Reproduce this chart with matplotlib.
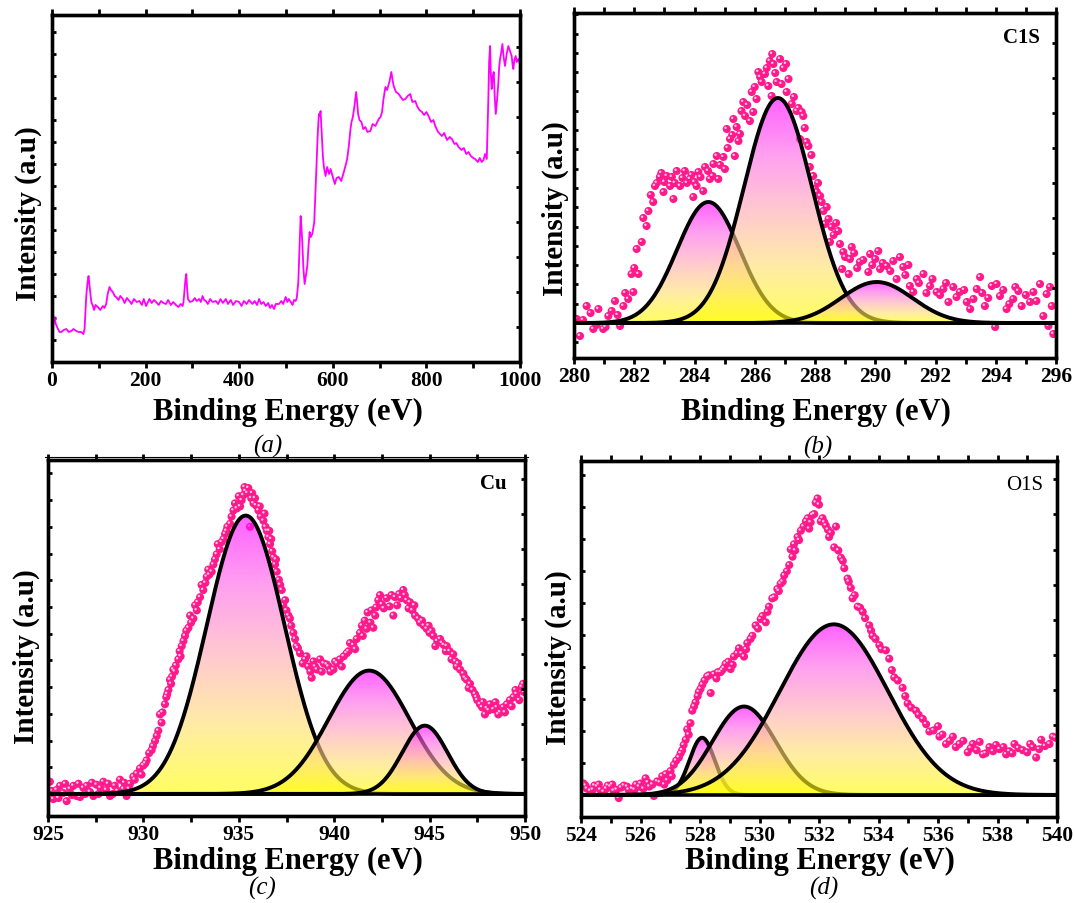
import numpy as np
import matplotlib
matplotlib.use('Agg')
import matplotlib.pyplot as plt
from matplotlib.colors import LinearSegmentedColormap
from matplotlib.patches import Polygon
from matplotlib.ticker import MultipleLocator
from matplotlib.transforms import offset_copy

plt.rcParams['font.family'] = 'Liberation Serif'
plt.rcParams['font.weight'] = 'bold'

# ---------------- survey spectrum (a) ----------------
survey_ev = [0, 3, 5.7, 8, 12.8, 16, 19.9, 25, 30.5, 36, 41.2, 46, 51.8, 57, 62.5, 67, 69.6, 71.5,
             73.2, 76, 78.1, 80, 81.7, 84, 87.4, 90, 93, 98, 103, 108.7, 112, 115.8, 119, 122.9,
             126, 130, 134, 137.1, 142, 146, 151.3, 155, 160, 165.5, 170, 175, 181, 186.8, 192,
             196, 201, 205, 208.1, 213, 218, 222.3, 228, 233, 238, 243.6, 248, 254, 259, 264.9,
             270, 275, 279.1, 281, 283.4, 285, 286.9, 288.5, 290.5, 295, 300.4, 305, 309, 314.6,
             318, 321.7, 325, 328.8, 333, 338, 343, 350.1, 355, 360, 365, 371.4, 376, 382, 387,
             393, 399.9, 405, 410, 416, 421, 428.3, 433, 438, 442.5, 447, 452, 456.7, 462, 466,
             470, 474.4, 478, 485.1, 490, 494, 499.3, 503, 506, 509.9, 514, 517, 520.6, 523,
             526.3, 528.5, 531.3, 533, 534.8, 537, 539.8, 542, 545.5, 548, 550.4, 553, 556.1,
             558, 560.4, 562.5, 565.3, 568, 570.3, 572, 573.9, 576, 578.8, 581, 584.5, 588, 592,
             595.2, 600, 604.4, 608, 612.9, 618, 623.6, 627, 630.7, 634, 637.8, 640, 642.8, 646,
             649.9, 652, 654.1, 657, 661.2, 665, 669.7, 674, 680.4, 685, 691.1, 695, 698.2, 702,
             705.3, 708, 712.4, 716, 720.9, 725.1, 728, 730.1, 735, 740.8, 745, 750, 755, 760,
             765.6, 770, 776.3, 780, 785, 790.5, 795, 800, 804.7, 810, 815, 818.9, 825, 833.1,
             838, 844, 850, 854.4, 860, 864, 868.6, 875, 880, 885, 889.9, 895, 900, 904.1, 910,
             914, 918.3, 922, 925.4, 929, 932.5, 934, 936.1, 937.5, 939.6, 941.5, 943.9, 946,
             948.2, 951, 953.8, 955.5, 957.4, 960, 962.4, 965, 968, 971.5, 975.1, 978, 982.2,
             984, 985.8, 988, 990.8, 993, 996.4, 1000]
survey_int = [28, 38, 45, 38, 33, 30, 30, 32, 33, 30, 31, 33, 31, 30, 30, 28, 33, 50,
              66, 80, 86, 78, 70, 60, 56, 52, 57, 55, 52, 56, 54, 58, 68, 75,
              72, 70, 66, 65, 62, 66, 63, 59, 64, 61, 58, 63, 60, 61, 57,
              63, 56, 60, 63, 59, 62, 60, 57, 61, 59, 58, 62, 57, 60, 57,
              55, 58, 56, 60, 73, 82, 88, 75, 63, 60, 61, 64, 61, 63,
              60, 66, 62, 61, 58, 63, 60, 61, 58, 63, 59, 63, 58, 62, 57,
              61, 60, 56, 61, 58, 62, 58, 61, 57, 63, 58, 60, 56, 59, 54,
              57, 53, 58, 58, 61, 58, 65, 60, 63, 60, 57, 62, 61, 64,
              80, 110, 146, 135, 120, 95, 78, 85, 96, 115, 130, 125, 128,
              133, 140, 165, 200, 230, 248, 246, 251, 232, 206, 195, 186, 195, 188,
              193, 185, 178, 184, 185, 181, 190, 196, 203, 215, 233, 240, 245, 255,
              270, 260, 248, 242, 240, 233, 235, 230, 231, 238, 236, 240, 243, 245,
              250, 262, 275, 272, 280, 290, 281, 276, 270, 268, 265, 262, 263, 266,
              268, 260, 261, 256, 252, 250, 247, 250, 246, 240, 242, 236, 230, 226,
              229, 222, 225, 223, 218, 219, 215, 212, 214, 208, 210, 206, 204, 203, 200,
              204, 200, 202, 208, 203, 266, 300, 316, 290, 273, 285, 290, 265,
              248, 262, 280, 295, 303, 310, 318, 305, 296, 308, 316, 312, 306,
              298, 293, 302, 306, 300, 303, 298]

# ---------------- C 1s (b) ----------------
c1s_ev = [280.09, 280.20, 280.42, 280.64, 280.81, 280.97, 281.14, 281.36, 281.53, 281.64, 281.80,
          281.91, 281.97, 282.08, 282.14, 282.25, 282.41, 282.47, 282.63, 282.69, 282.85, 282.97,
          283.08, 283.19, 283.30, 283.41, 283.52, 283.68, 283.85, 283.96, 284.07, 284.13, 284.29,
          284.35, 284.51, 284.63, 284.74, 284.79, 284.96, 285.01, 285.07, 285.18, 285.29, 285.34,
          285.46, 285.51, 285.62, 285.68, 285.84, 285.90, 285.95, 286.06, 286.12, 286.23, 286.34,
          286.45, 286.56, 286.58, 286.62, 286.73, 286.84, 286.89, 287.04, 287.06, 287.23, 287.39,
          287.50, 287.56, 287.61, 287.72, 287.78, 287.83, 287.94, 288.00, 288.06, 288.17, 288.22,
          288.33, 288.39, 288.50, 288.55, 288.77, 288.83, 288.94, 288.90, 289.16, 289.12, 289.22,
          289.49, 289.77, 289.83, 290.00, 290.16, 290.38, 290.71, 290.82, 290.93, 291.15, 291.26,
          291.38, 291.60, 291.82, 292.04, 292.26, 292.43, 292.59, 292.81, 293.04, 293.26, 293.37,
          293.48, 293.64, 293.87, 293.98, 294.03, 294.14, 294.36, 294.58, 294.75, 294.86, 295.14,
          295.25, 295.47, 295.58, 295.69, 295.75, 295.86, 295.91,
          282.30, 282.55, 282.75, 282.90, 283.00, 283.25, 283.35, 283.60, 283.75, 283.90, 284.00,
          284.20, 284.45, 284.60, 284.85, 285.10, 285.25, 285.40, 285.56, 285.75, 286.00, 286.18,
          286.40, 286.50, 286.68, 286.95, 287.12, 287.30, 287.45, 287.66, 287.88, 288.10, 288.28,
          288.45, 288.62, 288.70, 289.00, 289.30, 289.40, 289.60, 289.90, 290.10, 290.25, 290.50,
          290.60, 291.00, 291.10, 291.45, 291.70, 291.90, 292.15, 292.35, 292.70, 292.95, 293.15,
          293.55, 293.75, 294.25, 294.45, 294.65, 295.00, 295.35, 295.80, 281.25, 281.45, 281.70,
          282.00, 280.30, 280.55, 280.75, 281.05]
c1s_int = [4, -13, 17, -6, 14, -6, 7, 22, -3, 17, 24,
           49, 31, 74, 49, 81, 97, 112, 121, 137, 146, 131,
           147, 137, 124, 152, 137, 152, 144, 126, 137, 151, 132,
           156, 144, 159, 167, 144, 166, 154, 194, 184, 204, 167,
           182, 189, 221, 207, 202, 231, 211, 224, 251, 241, 249,
           237, 227, 269, 259, 241, 264, 239, 259, 231, 219, 212,
           184, 211, 207, 181, 177, 156, 147, 134, 131, 127, 121,
           99, 116, 81, 96, 92, 79, 71, 54, 64, 49, 76,
           61, 51, 69, 64, 54, 57, 44, 66, 56, 37, 31,
           44, 49, 37, 31, 34, 21, 36, 31, 21, 24, 34,
           46, 17, 37, -4, 39, 27, 14, 24, 32, 17, 21,
           31, 39, 7, 29, -3, 17, -11,
           105, 128, 140, 150, 141, 146, 140, 145, 140, 148, 141,
           146, 152, 147, 158, 175, 188, 196, 212, 218, 236, 246,
           255, 262, 250, 255, 244, 226, 215, 195, 168, 140, 112,
           104, 88, 100, 66, 70, 55, 63, 58, 72, 60, 52,
           62, 48, 58, 40, 30, 44, 28, 40, 26, 33, 14,
           30, 25, 33, 19, 36, 28, 22, 36, 12, 8, 30,
           55, 3, 10, -2, -4]
c1s_center = [284.46, 286.77, 290.05]
c1s_height = [121, 225, 41]
c1s_fwhm = [2.45, 2.65, 2.8]

# ---------------- Cu 2p (c) ----------------
cu_ev = [925.10, 925.28, 925.45, 925.63, 925.80, 925.98, 926.15, 926.33, 926.50, 926.68, 926.85,
         927.03, 927.20, 927.38, 927.55, 927.90, 928.05, 928.25, 928.50, 928.77, 928.95, 929.12,
         929.30, 929.47, 929.65, 929.82, 930.00, 930.17, 930.30, 930.43, 930.61, 930.70, 930.78,
         930.87, 931.00, 931.13, 931.20, 931.31, 931.39, 931.50, 931.57, 931.70, 931.83, 931.90,
         932.01, 932.10, 932.18, 932.36, 932.50, 932.62, 932.71, 932.85, 932.97, 933.14, 933.25,
         933.32, 933.45, 933.58, 933.67, 933.75, 933.84, 934.00, 934.10, 934.20, 934.28, 934.40,
         934.54, 934.62, 934.72, 934.90, 935.07, 935.15, 935.24, 935.35, 935.50, 935.59, 935.65,
         935.77, 935.90, 936.03, 936.15, 936.29, 936.40, 936.47, 936.55, 936.64, 936.75, 936.82,
         936.90, 936.99, 937.10, 937.17, 937.33, 937.43, 937.60, 937.68, 937.86, 938.03, 938.21,
         938.47, 938.64, 938.82, 938.91, 939.10, 939.26, 939.45, 939.61, 939.80, 939.96, 940.15,
         940.30, 940.50, 940.65, 940.83, 941.00, 941.18, 941.35, 941.50, 941.70, 941.75, 941.90,
         942.05, 942.20, 942.31, 942.50, 942.75, 942.90, 943.10, 943.19, 943.40, 943.62, 943.80,
         943.97, 944.10, 944.24, 944.40, 944.50, 944.70, 944.85, 945.00, 945.20, 945.40, 945.55,
         945.75, 945.90, 946.05, 946.24, 946.42, 946.60, 946.77, 946.95, 947.12, 947.25, 947.38,
         947.50, 947.64, 947.75, 947.90, 948.00, 948.17, 948.35, 948.52, 948.70, 948.86, 949.05,
         949.21, 949.40, 949.56, 949.70, 949.83, 949.95,
         925.20, 925.55, 925.90, 926.25, 926.60, 926.95, 927.30, 927.65, 927.75, 928.15, 928.40,
         928.65, 929.00, 929.25, 929.55, 929.90, 930.10, 930.50, 930.95, 931.25, 931.45, 931.65,
         931.95, 932.25, 932.45, 932.80, 933.05, 933.40, 933.90, 934.35, 934.80, 935.00, 935.30,
         935.45, 935.70, 935.85, 936.10, 936.35, 936.60, 936.70, 936.95, 937.25, 937.50, 937.75,
         937.95, 938.10, 938.35, 938.55, 938.75, 939.00, 939.35, 939.70, 940.05, 940.40, 940.75,
         941.10, 941.45, 941.60, 941.95, 942.15, 942.40, 942.60, 943.00, 943.30, 943.50, 943.70,
         943.90, 944.20, 944.60, 944.95, 945.10, 945.30, 945.65, 945.85, 946.15, 946.35, 946.50,
         946.85, 947.05, 947.45, 947.80, 948.10, 948.45, 948.60, 948.95, 949.30, 949.50, 949.90]
cu_int = [12, -5, 4, 8, 1, -7, 5, 8, -2, -3, 6,
          8, 2, -2, 9, 12, 4, -2, 8, 14, 5, -2,
          10, 17, 20, 25, 28, 33, 40, 43, 52, 57, 62,
          78, 80, 88, 95, 102, 112, 115, 122, 126, 132, 140,
          145, 150, 155, 163, 168, 172, 185, 188, 193, 200, 207,
          213, 215, 218, 225, 230, 235, 240, 247, 250, 255, 262,
          265, 272, 278, 280, 282, 288, 293, 297, 300, 262, 290,
          285, 283, 278, 272, 268, 262, 258, 252, 245, 238, 232,
          225, 218, 210, 205, 185, 190, 175, 172, 158, 145, 138,
          132, 125, 114, 130, 122, 132, 128, 127, 120, 122, 128,
          132, 135, 138, 148, 146, 152, 158, 155, 162, 178, 168,
          163, 183, 190, 186, 192, 184, 175, 193, 196, 200, 190,
          188, 180, 175, 172, 168, 165, 162, 158, 155, 150, 152,
          146, 145, 140, 137, 125, 122, 118, 112, 108, 102, 98,
          92, 88, 85, 78, 84, 88, 83, 85, 80, 85, 88,
          92, 95, 98, 92, 105, 100,
          3, -4, 10, -1, 10, 0, 11, 0, 6, 10, 0,
          3, 11, 5, 14, 19, 30, 47, 70, 98, 108, 120,
          135, 160, 175, 180, 205, 220, 245, 258, 285, 292, 301,
          295, 295, 290, 282, 275, 258, 250, 230, 200, 180, 165,
          152, 143, 128, 135, 120, 125, 120, 125, 130, 125, 140,
          142, 165, 170, 180, 175, 195, 182, 195, 185, 192, 195,
          182, 185, 170, 165, 160, 145, 148, 140, 132, 130, 128,
          114, 104, 95, 90, 82, 90, 78, 80, 86, 102, 108]
cu_center = [935.36, 941.83, 944.75]
cu_height = [273, 121, 67]
cu_fwhm = [4.8, 5.0, 2.8]

# ---------------- O 1s (d) ----------------
o1s_ev = [524.09, 524.20, 524.31, 524.45, 524.54, 524.65, 524.76, 524.90, 524.99, 525.10, 525.27,
          525.44, 525.60, 525.72, 525.85, 526.00, 526.17, 526.30, 526.45, 526.56, 526.73, 526.80,
          526.90, 527.01, 527.12, 527.20, 527.29, 527.40, 527.52, 527.57, 527.68, 527.74, 527.85,
          527.96, 528.08, 528.15, 528.24, 528.36, 528.47, 528.60, 528.69, 528.80, 528.86, 529.03,
          529.14, 529.31, 529.40, 529.48, 529.59, 529.76, 529.87, 530.04, 530.21, 530.32, 530.43,
          530.60, 530.71, 530.83, 531.00, 531.05, 531.11, 531.16, 531.28, 531.39, 531.56, 531.67,
          531.78, 531.89, 532.00, 532.06, 532.12, 532.23, 532.34, 532.51, 532.57, 532.74, 532.85,
          532.96, 533.07, 533.13, 533.30, 533.47, 533.69, 533.80, 534.03, 534.25, 534.36, 534.53,
          534.81, 534.98, 535.26, 535.49, 535.71, 536.00, 536.05, 536.27, 536.50, 536.72, 537.00,
          537.17, 537.51, 537.73, 538.07, 538.29, 538.57, 538.85, 539.19, 539.30, 539.47, 539.75,
          539.86,
          524.15, 524.40, 524.60, 524.85, 525.05, 525.20, 525.35, 525.55, 525.80, 525.95, 526.10,
          526.25, 526.40, 526.65, 526.85, 527.05, 527.35, 527.45, 527.62, 527.80, 527.92, 528.02,
          528.30, 528.55, 528.75, 528.95, 529.10, 529.25, 529.55, 529.70, 529.95, 530.10, 530.27,
          530.50, 530.65, 530.78, 530.92, 531.20, 531.33, 531.48, 531.62, 531.72, 531.84, 531.95,
          532.18, 532.30, 532.40, 532.65, 532.80, 533.00, 533.20, 533.38, 533.55, 533.75, 533.90,
          534.10, 534.45, 534.65, 534.90, 535.10, 535.35, 535.60, 535.85, 536.15, 536.40, 536.60,
          536.85, 537.10, 537.30, 537.40, 537.60, 537.85, 537.95, 538.20, 538.40, 538.50, 538.70,
          539.00, 539.10, 539.40, 539.60, 539.95]
o1s_int = [11, 6, 4, 9, 8, 5, 3, 9, 8, 4, -3,
           9, 5, 6, 10, 11, 16, 8, -1, 13, 18, 10,
           14, 23, 29, 33, 36, 43, 53, 63, 69, 81, 89,
           99, 106, 110, 114, 98, 116, 118, 118, 122, 126, 121,
           133, 141, 136, 133, 146, 153, 163, 169, 166, 181, 189,
           198, 203, 211, 221, 236, 229, 241, 248, 254, 263, 256,
           269, 281, 279, 263, 266, 259, 248, 238, 258, 228, 218,
           208, 199, 189, 181, 176, 163, 153, 144, 139, 131, 113,
           103, 88, 81, 73, 61, 66, 56, 49, 56, 49, 41,
           49, 39, 46, 44, 39, 49, 43, 46, 36, 53, 49,
           56,
           9, 5, 10, 6, 10, 5, 7, 8, 5, 8, 6,
           12, 10, 12, 20, 18, 40, 48, 58, 85, 95, 102,
           115, 112, 120, 128, 125, 136, 140, 150, 160, 172, 176,
           190, 196, 205, 215, 235, 245, 258, 266, 262, 270, 285,
           262, 255, 252, 235, 225, 205, 192, 180, 170, 158, 150,
           140, 120, 110, 95, 84, 77, 68, 62, 58, 52, 46,
           52, 45, 43, 51, 40, 42, 48, 46, 42, 40, 45,
           41, 49, 44, 47, 55]
o1s_center = [528.07, 529.48, 532.5]
o1s_height = [55, 85, 164]
o1s_fwhm = [1.0, 2.5, 4.3]

W, H = 1075, 904
fig = plt.figure(figsize=(W / 100, H / 100), dpi=100)

peak_cmap = LinearSegmentedColormap.from_list(
    'peak', ['#ffff00', '#ffe070', '#ffa8b4', '#ff66e8', '#ff00ff'])
dot_color = '#ff1a8c'


def px_axes(l, t, r, b):
    return fig.add_axes([l / W, 1 - b / H, (r - l) / W, (b - t) / H])


def gauss(x, c, h, fwhm):
    return h * np.exp(-4 * np.log(2) * (x - c) ** 2 / fwhm ** 2)


def style(ax, xlim, ylim, xmaj, xmin, left_step, right_step):
    ax.set_xlim(*xlim)
    ax.set_ylim(*ylim)
    for s in ax.spines.values():
        s.set_linewidth(2.4)
    ax.xaxis.set_major_locator(MultipleLocator(xmaj))
    ax.xaxis.set_minor_locator(MultipleLocator(xmin))
    ax.yaxis.set_major_locator(MultipleLocator(left_step))
    ax.set_yticklabels([])
    ax.tick_params(axis='x', which='both', direction='out', length=4, width=2,
                   labelsize=15.5, pad=1.5, top=True, labeltop=False)
    ax.tick_params(axis='y', which='both', direction='in', length=3, width=2, left=True)
    for lab in ax.get_xticklabels():
        lab.set_fontweight('bold')
    tw = ax.twinx()
    tw.set_ylim(*ylim)
    tw.yaxis.set_major_locator(MultipleLocator(right_step))
    tw.set_yticklabels([])
    tw.tick_params(axis='y', direction='in', length=3, width=2)
    for s in tw.spines.values():
        s.set_linewidth(2.4)
    return tw


def fit_panel(ax, ev, inten, centers, heights, fwhms, xlim):
    ax.scatter(ev, inten, s=34, color=dot_color, edgecolors='none', zorder=1)
    hl = offset_copy(ax.transData, fig=fig, x=-1.2, y=1.2, units='dots')
    ax.scatter(ev, inten, s=3, color='white', alpha=0.75, edgecolors='none',
               transform=hl, zorder=1.1)
    x = np.linspace(xlim[0], xlim[1], 800)
    grad = np.linspace(0, 1, 256).reshape(-1, 1)
    for k, (c, h, w) in enumerate(zip(centers, heights, fwhms)):
        y = gauss(x, c, h, w)
        verts = np.column_stack([np.r_[x, x[::-1]], np.r_[y, np.zeros_like(y)]])
        poly = Polygon(verts, closed=True, facecolor='none', edgecolor='none')
        ax.add_patch(poly)
        im = ax.imshow(grad, cmap=peak_cmap, extent=[xlim[0], xlim[1], 0, h],
                       origin='lower', aspect='auto', alpha=0.62,
                       interpolation='bilinear', zorder=2 + 2 * k)
        im.set_clip_path(poly)
        ax.plot(x, y, color='black', lw=2.8, zorder=3 + 2 * k)
    ax.axhline(0, color='black', lw=2.6, zorder=20)


# (a) survey
ax_a = px_axes(52, 16, 520, 363)
ax_a.plot(survey_ev, survey_int, color='#ff00ff', lw=1.3)
style(ax_a, (0, 1000), (0, 347), 200, 100, 22, 35)

# (b) C1s
ax_b = px_axes(574, 14, 1056, 359)
fit_panel(ax_b, c1s_ev, c1s_int, c1s_center, c1s_height, c1s_fwhm, (280, 296))
style(ax_b, (280, 296), (-35, 310), 2, 1, 19.3, 35)

# (c) Cu
ax_c = px_axes(48, 461, 525, 817)
fit_panel(ax_c, cu_ev, cu_int, cu_center, cu_height, cu_fwhm, (925, 950))
style(ax_c, (925, 950), (-21.6, 327.5), 5, 2.5, 26.2, 34.3)

# (d) O1s
ax_d = px_axes(581, 462, 1057, 818)
fit_panel(ax_d, o1s_ev, o1s_int, o1s_center, o1s_height, o1s_fwhm, (524, 540))
style(ax_d, (524, 540), (-21.2, 321), 2, 1, 30.8, 33.7)

xl_kw = dict(fontsize=22, fontweight='bold', ha='center', va='center')
for (xx, yy) in [(288, 412), (816, 412), (288, 861), (820, 861)]:
    fig.text(xx / W, 1 - yy / H, 'Binding Energy (eV)', **xl_kw)
yl_kw = dict(fontsize=21, fontweight='bold', ha='center', va='center', rotation=90)
for (xx, yy) in [(28, 214), (555, 209), (26, 657), (558, 658)]:
    fig.text(xx / W, 1 - yy / H, 'Intensity (a.u)', **yl_kw)

for (xx, yy, s) in [(268, 446, '(a)'), (818, 447, '(b)'), (262, 888, '(c)'), (824, 888, '(d)')]:
    fig.text(xx / W, 1 - yy / H, s, fontsize=18, fontweight='normal', fontstyle='italic',
             ha='center', va='center')

fig.text(1021 / W, 1 - 38 / H, 'C1S', fontsize=15, fontweight='bold', ha='center', va='center')
fig.text(493 / W, 1 - 484 / H, 'Cu', fontsize=15, fontweight='bold', ha='center', va='center')
fig.text(1025 / W, 1 - 486 / H, 'O1S', fontsize=15, fontweight='normal', ha='center', va='center')

# thin rule under panel (a)
fig.add_artist(plt.Line2D([45 / W, 528 / W], [1 - 458 / H, 1 - 458 / H], color='black', lw=0.8))

fig.savefig('out.png', dpi=100)
